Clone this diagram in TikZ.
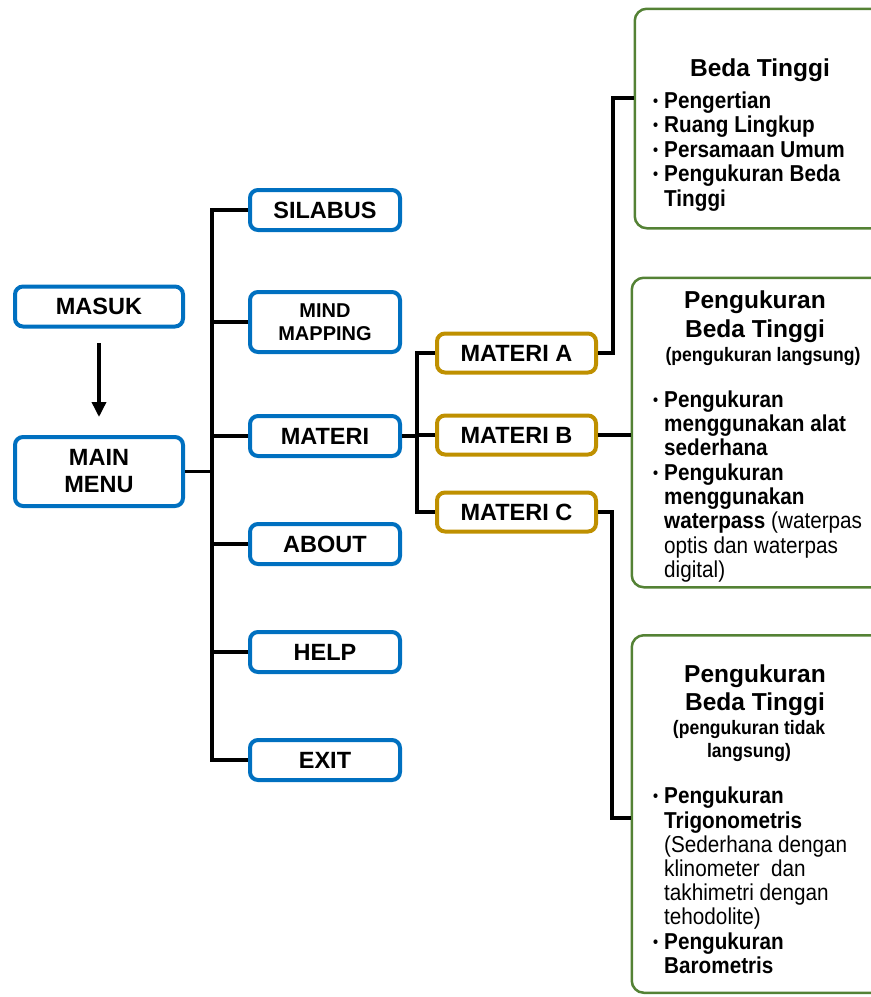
\documentclass[tikz,border=0pt]{standalone}
\usepackage{fontspec}
\setmainfont{Liberation Sans}
\newfontfamily\narrowsf[FakeStretch=0.9]{Liberation Sans}
\usetikzlibrary{arrows.meta,positioning}

\definecolor{menublue}{RGB}{0,112,192}
\definecolor{subgold}{RGB}{191,144,0}
\definecolor{panelgreen}{RGB}{84,130,53}

\newcommand\pbul{\makebox[11pt][l]{\raisebox{2pt}{\fontsize{16}{16}\selectfont\textbullet}}}
\newcommand\pind{\hspace*{11pt}}

\begin{document}
\begin{tikzpicture}[x=1pt,y=-1pt,>={Triangle[length=15pt,width=14pt]},
    menu/.style={draw=menublue,line width=4pt,rounded corners=8pt,fill=white,
      minimum width=150pt,minimum height=40pt,inner sep=2pt,align=center,
      font=\bfseries\fontsize{23.5}{27}\selectfont},
    sub/.style={menu,draw=subgold,minimum width=159pt,minimum height=39pt},
    panel/.style={draw=panelgreen,line width=2.5pt,rounded corners=12pt,
      anchor=north west,minimum width=300pt},
    wire/.style={line width=3.5pt},
    ptitle/.style={anchor=north,inner sep=0pt,align=center,
      font=\bfseries\fontsize{24.5}{28.5}\selectfont},
    psub/.style={anchor=north,inner sep=0pt,align=center,
      font=\narrowsf\bfseries\fontsize{19.5}{23.5}\selectfont},
    plist/.style={anchor=north west,inner sep=0pt,align=left,
      font=\narrowsf\bfseries\fontsize{23}{#1}\selectfont}]
  \useasboundingbox (0,0) rectangle (871,997);
  \clip (0,0) rectangle (871,997);

  % left side
  \node[menu,minimum width=168pt] (masuk) at (99,306.5) {MASUK};
  \node[menu,minimum width=168pt,minimum height=69pt] (mainmenu) at (99,471.5) {MAIN\\MENU};
  \draw[->,wire,shorten <=14.5pt,shorten >=18pt] (masuk) -- (mainmenu);

  % menu column
  \node[menu] (silabus) at (325,210) {SILABUS};
  \node[menu,minimum height=60pt,font=\bfseries\fontsize{20}{23.3}\selectfont]
    (mindmap) [below=58pt of silabus] {MIND\\MAPPING};
  \node[menu] (materi) [below=60pt of mindmap] {MATERI};
  \node[menu] (about) [below=64pt of materi] {ABOUT};
  \node[menu] (help) [below=64pt of about] {HELP};
  \node[menu] (exit) [below=64pt of help] {EXIT};

  \coordinate (bus) at (212,0);
  \draw[wire] (mainmenu.east) -- (mainmenu.east -| bus);
  \draw[wire] (silabus.west) -- (silabus.west -| bus) -- (exit.west -| bus) -- (exit.west);
  \foreach \n in {mindmap,materi,about,help}
    \draw[wire] (\n.west) -- (\n.west -| bus);

  % materi A, B, C
  \node[sub] (mA) at (516.5,353) {MATERI A};
  \node[sub] (mB) [below=39pt of mA] {MATERI B};
  \node[sub] (mC) [below=34pt of mB] {MATERI C};

  \coordinate (bus2) at (417,0);
  \draw[wire] (materi.east) -- (materi.east -| bus2);
  \draw[wire] (mA.west) -- (mA.west -| bus2) -- (mC.west -| bus2) -- (mC.west);
  \draw[wire] (mB.west) -- (mB.west -| bus2);

  % panels
  \node[panel,minimum height=219.5pt] (pA) at (633.5,7.5) {};
  \node[panel,minimum height=309.5pt] (pB) at (630.5,276.5) {};
  \node[panel,minimum height=357.5pt] (pC) at (630.5,634) {};

  \coordinate (jA) at (613,98);
  \draw[wire] (mA.east) -| (jA) -- (jA -| pA.west);
  \draw[wire] (mB.east) -- (mB.east -| pB.west);
  \coordinate (jC) at (612,818);
  \draw[wire] (mC.east) -| (jC) -- (jC -| pC.west);

  % panel texts
  \node[ptitle] (tA) at (760,59) {Beda Tinggi};
  \node[plist=24.5] (lA) at (653,91.5) {\pbul Pengertian\\\pbul Ruang Lingkup\\
    \pbul Persamaan Umum\\\pbul Pengukuran Beda\\\pind Tinggi};

  \node[ptitle] (tB) at (755,291) {Pengukuran\\Beda Tinggi};
  \node[psub] (sB) at (763,347.5) {(pengukuran langsung)};
  \node[plist=24.3] (lB) at (653,390.5) {\pbul Pengukuran\\\pind menggunakan alat\\
    \pind sederhana\\\pbul Pengukuran\\\pind menggunakan\\
    \pind waterpass {\mdseries (waterpas}\\\pind{\mdseries optis dan waterpas}\\
    \pind{\mdseries digital)}};

  \node[ptitle] (tC) at (755,664.5) {Pengukuran\\Beda Tinggi};
  \node[psub] (sC) at (749,719.8) {(pengukuran tidak\\langsung)};
  \node[plist=24.2] (lC) at (653,787) {\pbul Pengukuran\\\pind Trigonometris\\
    \pind{\mdseries (Sederhana dengan}\\\pind{\mdseries klinometer\ \ dan}\\
    \pind{\mdseries takhimetri dengan}\\\pind{\mdseries tehodolite)}\\
    \pbul Pengukuran\\\pind Barometris};
\end{tikzpicture}
\end{document}
